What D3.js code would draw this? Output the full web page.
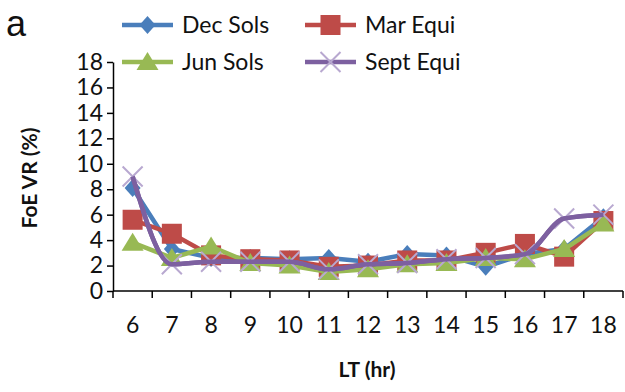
<!DOCTYPE html>
<html><head><meta charset="utf-8">
<script src="https://cdn.jsdelivr.net/npm/d3@7"></script>
<style>body{margin:0;background:#fff}svg{display:block}</style>
</head><body>
<svg id="c" width="625" height="392"></svg>
<script>
const hours = ["6","7","8","9","10","11","12","13","14","15","16","17","18"];
const decSols  = [8.1, 3.3, 2.6, 2.6, 2.5, 2.6, 2.3, 2.9, 2.8, 1.9, 2.9, 3.3, 5.8];
const marEqui  = [5.6, 4.5, 2.8, 2.5, 2.4, 1.9, 2.0, 2.4, 2.4, 3.0, 3.7, 2.7, 5.5];
const junSols  = [3.8, 2.6, 3.5, 2.2, 2.0, 1.5, 1.7, 2.1, 2.2, 2.6, 2.5, 3.3, 5.3];
const septEqui = [9.0, 2.1, 2.3, 2.3, 2.3, 1.7, 2.1, 2.2, 2.5, 2.6, 2.9, 5.7, 6.0];
const yTicks = [0,2,4,6,8,10,12,14,16,18];

const seriesList = [
  {name:"Dec Sols", values:decSols, color:"#4a7ebb", marker:"diamond", curve:false},
  {name:"Mar Equi", values:marEqui, color:"#be4b48", marker:"square", curve:false},
  {name:"Jun Sols", values:junSols, color:"#98b954", marker:"triangle", curve:false},
  {name:"Sept Equi", values:septEqui, color:"#7d60a0", marker:"x", curve:true}
];

const svg = d3.select("#c");
const x = d3.scaleBand().domain(hours).range([113, 623]).paddingInner(0).paddingOuter(0);
const y = d3.scaleLinear().domain([0, 18]).range([291, 62]);
const font = "Lato, 'Open Sans', sans-serif";

// Y axis
const ya = svg.append("g").attr("transform","translate(113,0)")
  .call(d3.axisLeft(y).tickValues(yTicks).tickSize(6).tickSizeOuter(0).tickPadding(4));
ya.select(".domain").attr("stroke","#000").attr("stroke-width",1.5);
ya.selectAll(".tick line").attr("stroke","#000").attr("stroke-width",1.5);
ya.selectAll("text").attr("font-family",font).attr("font-size",23).attr("fill","#111");

// X axis
const xa = svg.append("g").attr("transform","translate(0,291)")
  .call(d3.axisBottom(x).tickSize(0).tickPadding(26).tickSizeOuter(0));
xa.select(".domain").attr("stroke","#000").attr("stroke-width",1.5).attr("d","M113,0H623");
xa.selectAll("text").attr("font-family",font).attr("font-size",23).attr("fill","#111");
// boundary ticks
const bounds = hours.map(h => x(h)).concat([x(hours[hours.length-1]) + x.bandwidth()]);
svg.append("g").selectAll("line").data(bounds).join("line")
  .attr("x1",d=>d).attr("x2",d=>d).attr("y1",291).attr("y2",298)
  .attr("stroke","#000").attr("stroke-width",1.5);

// titles
svg.append("text").attr("x",367).attr("y",377).attr("text-anchor","middle")
  .attr("font-family",font).attr("font-weight","bold").attr("font-size",21).attr("fill","#111").text("LT (hr)");
svg.append("text").attr("transform","translate(37,178) rotate(-90)").attr("text-anchor","middle")
  .attr("font-family",font).attr("font-weight","bold").attr("font-size",21).attr("fill","#111").text("FoE VR (%)");
svg.append("text").attr("x",6).attr("y",36).attr("font-family","'Liberation Sans', Arial, sans-serif")
  .attr("font-size",36).attr("fill","#111").text("a");

const cx = (i) => x(hours[i]) + x.bandwidth()/2;

function drawMarker(g, type, color, px, py) {
  if (type === "diamond") {
    g.append("path").attr("d", `M${px},${py-9}L${px+8},${py}L${px},${py+9}L${px-8},${py}Z`).attr("fill",color);
  } else if (type === "square") {
    g.append("rect").attr("x",px-10).attr("y",py-10).attr("width",20).attr("height",20).attr("fill",color);
  } else if (type === "triangle") {
    g.append("path").attr("d", `M${px},${py-10}L${px+11},${py+8}L${px-11},${py+8}Z`).attr("fill",color);
  } else if (type === "x") {
    g.append("path").attr("d", `M${px-10},${py-10}L${px+10},${py+10}M${px+10},${py-10}L${px-10},${py+10}`)
      .attr("stroke","#b8a8d0").attr("stroke-width",2).attr("fill","none");
  }
}

seriesList.forEach(s => {
  const g = svg.append("g");
  const line = d3.line().x((d,i)=>cx(i)).y(d=>y(d)).curve(s.curve ? d3.curveMonotoneX : d3.curveLinear);
  g.append("path").datum(s.values).attr("d", line).attr("fill","none")
    .attr("stroke", s.color).attr("stroke-width", 4.5).attr("stroke-linejoin","round");
  s.values.forEach((v,i) => drawMarker(g, s.marker, s.color, cx(i), y(v)));
});
// purple line on top of its markers
{
  const s = seriesList[3];
  const line = d3.line().x((d,i)=>cx(i)).y(d=>y(d)).curve(d3.curveMonotoneX);
  svg.append("path").datum(s.values).attr("d", line).attr("fill","none")
    .attr("stroke", s.color).attr("stroke-width", 4.5);
}

// Legend
const legPos = [[122,25],[305,25],[122,62],[305,62]];
const legOrder = [0,1,2,3];
legOrder.forEach((si,k) => {
  const s = seriesList[si];
  const [lx, ly] = legPos[k];
  const g = svg.append("g");
  g.append("line").attr("x1",lx).attr("x2",lx+51).attr("y1",ly).attr("y2",ly)
    .attr("stroke",s.color).attr("stroke-width",4.5);
  drawMarker(g, s.marker, s.color, lx+25.5, ly);
  g.append("text").attr("x",lx+60).attr("y",ly+8).attr("font-family",font)
    .attr("font-size",23).attr("fill","#111").text(s.name);
});
</script>
</body></html>
